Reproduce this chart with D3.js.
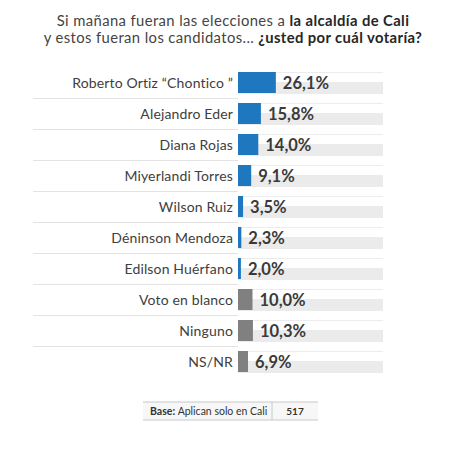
<!DOCTYPE html>
<html>
<head>
<meta charset="utf-8">
<script src="https://cdn.jsdelivr.net/npm/d3@7"></script>
<style>
  body { margin: 0; background: #fff; }
  svg { font-family: Lato, "Open Sans", sans-serif; }
</style>
</head>
<body>
<svg width="469" height="450"></svg>
<script>
// data
var categories = ["Roberto Ortiz \u201cChontico \u201d", "Alejandro Eder", "Diana Rojas",
    "Miyerlandi Torres", "Wilson Ruiz", "D\u00e9ninson Mendoza", "Edilson Hu\u00e9rfano",
    "Voto en blanco", "Ninguno", "NS/NR"];
var values = [26.1, 15.8, 14.0, 9.1, 3.5, 2.3, 2.0, 10.0, 10.3, 6.9];
var otherOptions = ["Voto en blanco", "Ninguno", "NS/NR"];
var baseLabel = "Aplican solo en Cali";
var baseN = 517;

var svg = d3.select("svg");

// title, two lines with bold parts
var title = svg.append("text")
    .attr("x", 233).attr("text-anchor", "middle")
    .attr("font-size", 14.8).attr("letter-spacing", 0.4).attr("fill", "#444");
var l1 = title.append("tspan").attr("x", 233).attr("y", 26);
l1.append("tspan").text("Si ma\u00f1ana fueran las elecciones a ");
l1.append("tspan").attr("font-weight", "bold").attr("fill", "#262626").text("la alcald\u00eda de Cali");
var l2 = title.append("tspan").attr("x", 233).attr("y", 43);
l2.append("tspan").text("y estos  fueran los candidatos... ");
l2.append("tspan").attr("font-weight", "bold").attr("fill", "#262626").text("\u00bfusted por cu\u00e1l votar\u00eda?");

// scales
var x = d3.scaleLinear().domain([0, 100]).range([238, 383]);
var y = d3.scaleBand().domain(categories).range([72, 372])
    .paddingInner(10 / 31).paddingOuter(0);

var rows = svg.append("g").selectAll("g")
    .data(categories).enter()
    .append("g");

// thin lines on the right, at the top of each row
rows.append("line")
    .attr("x1", x(0)).attr("x2", x(100))
    .attr("y1", d => y(d) + 0.5).attr("y2", d => y(d) + 0.5)
    .attr("stroke", "#ececec");

// separators under the labels
rows.filter((d, i) => i > 0).append("line")
    .attr("x1", 33).attr("x2", x(0))
    .attr("y1", d => y(d) - 4.5).attr("y2", d => y(d) - 4.5)
    .attr("stroke", "#e3e3e3");

// grey track
rows.append("rect")
    .attr("x", x(0)).attr("width", x(100) - x(0))
    .attr("y", d => y(d) + 10).attr("height", 12)
    .attr("fill", "#ebebeb");

// bars
rows.append("rect")
    .attr("x", x(0))
    .attr("width", (d, i) => x(values[i]) - x(0))
    .attr("y", d => y(d)).attr("height", y.bandwidth())
    .attr("fill", d => otherOptions.includes(d) ? "#808080" : "#1f77c0");

// category labels
rows.append("text")
    .attr("x", 233).attr("y", d => y(d) + y.bandwidth() / 2)
    .attr("dy", "0.36em").attr("text-anchor", "end")
    .attr("font-size", 14).attr("letter-spacing", 0.15).attr("fill", "#404040")
    .text(d => d);

// value labels
rows.append("text")
    .attr("x", (d, i) => x(values[i]) + 7)
    .attr("y", d => y(d) + y.bandwidth() / 2)
    .attr("dy", "0.4em")
    .attr("font-size", 16.5).attr("font-weight", "bold").attr("fill", "#3a3a3a")
    .text((d, i) => d3.format(".1f")(values[i]).replace(".", ",") + "%");

// base box
var base = svg.append("g");
base.append("rect").attr("x", 143).attr("y", 402).attr("width", 175).attr("height", 18)
    .attr("fill", "#f7f7f7");
base.append("line").attr("x1", 143).attr("x2", 318).attr("y1", 402).attr("y2", 402)
    .attr("stroke", "#c8c8c8");
base.append("line").attr("x1", 143).attr("x2", 318).attr("y1", 420).attr("y2", 420)
    .attr("stroke", "#c8c8c8");
base.append("line").attr("x1", 272).attr("x2", 272).attr("y1", 402).attr("y2", 420)
    .attr("stroke", "#c8c8c8");
var bt = base.append("text").attr("x", 150).attr("y", 415)
    .attr("font-size", 10.5).attr("fill", "#333");
bt.append("tspan").attr("font-weight", "bold").text("Base: ");
bt.append("tspan").text(baseLabel);
base.append("text").attr("x", 295).attr("y", 415).attr("text-anchor", "middle")
    .attr("font-size", 10).attr("font-weight", "bold").attr("fill", "#333")
    .text(baseN);
</script>
</body>
</html>
